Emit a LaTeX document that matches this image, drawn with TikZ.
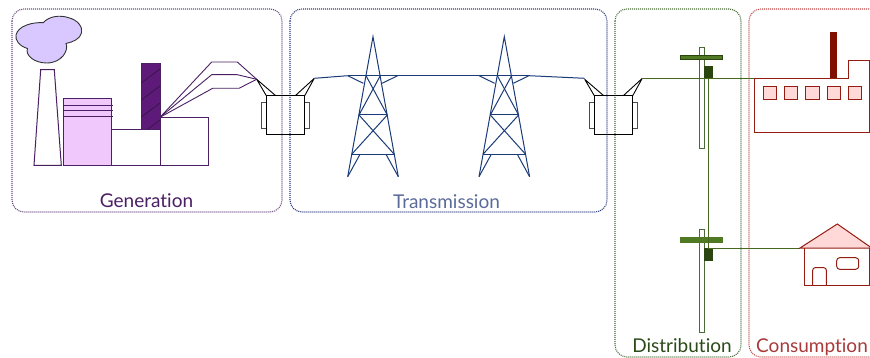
\documentclass[tikz,border=0pt]{standalone}
\usepackage{fontspec}
\setmainfont{Lato}[Ligatures=NoCommon]
\definecolor{genc}{HTML}{4A1F63}
\definecolor{genbox}{HTML}{6B4A80}
\definecolor{trc}{HTML}{5A6A9A}
\definecolor{trbox}{HTML}{2A3A80}
\definecolor{trline}{HTML}{1A3A78}
\definecolor{disc}{HTML}{2A4A18}
\definecolor{disbox}{HTML}{4A6A38}
\definecolor{disline}{HTML}{47691F}
\definecolor{armfill}{HTML}{4F7A23}
\definecolor{boxfill}{HTML}{2A4510}
\definecolor{conc}{HTML}{A83A3A}
\definecolor{conbox}{HTML}{C04848}
\definecolor{conline}{HTML}{951C10}
\definecolor{chimfill}{HTML}{800F00}
\definecolor{pinkfill}{HTML}{F0C8FC}
\definecolor{cloudfill}{HTML}{D8C8FF}
\definecolor{stackfill}{HTML}{5E1A78}
\definecolor{rosefill}{HTML}{FFD8D8}
\tikzset{
  zone/.style={draw=#1,dash pattern=on 1pt off 1pt,line width=1.1pt,rounded corners=12pt},
  zonelabel/.style={text=#1,font=\fontsize{19}{20}\selectfont,anchor=base,inner sep=0pt},
  plant/.style={draw=genc,line width=1pt},
  wirep/.style={draw=genc,line width=.9pt},
  wiret/.style={draw=trline,line width=1pt},
  wired/.style={draw=disline,line width=1pt},
  wirek/.style={draw=black,line width=.9pt},
  cons/.style={draw=conline,line width=1pt},
}
\begin{document}
\begin{tikzpicture}[x=1pt,y=-1pt]
\useasboundingbox (0,0) rectangle (870,358);
% zones
\draw[zone=genbox] (12,9) rectangle (282,212);
\draw[zone=trbox] (290,9) rectangle (607,212);
\draw[zone=disbox] (615,9) rectangle (741,357);
\draw[zone=conbox] (885,9) -- (749,9) -- (749,357) -- (885,357);
% labels
\node[zonelabel=genc] (lgen) at (146.5,207.5) {Generation};
\node[zonelabel=trc] (ltr) at (446.5,208.5) {Transmission};
\node[zonelabel=disc] (ldis) at (682,352.5) {Distribution};
\node[zonelabel=conc] (lcon) at (812,352.5) {Consumption};
% cloud
\draw[draw=black!80,fill=cloudfill,line width=.9pt] (43.3,22.7)
  .. controls (49,16) and (60,15) .. (68,17.5)
  .. controls (78,20) and (83,27) .. (81.5,33)
  .. controls (80,39) and (73,42) .. (66,43.5)
  .. controls (69,50) and (62,63) .. (46.7,63)
  .. controls (34,63) and (25,55) .. (27.5,48.5)
  .. controls (19,46) and (15,40) .. (16,35)
  .. controls (18,26) and (32,22) .. (43.3,22.7) -- cycle;
% plant
\draw[plant,fill=white] (40.7,69.7) -- (54.3,69.7) -- (61.3,165.3) -- (34,165.3) -- cycle;
\draw[plant,fill=pinkfill] (63.3,98.7) rectangle (111.7,165.3);
\foreach \y in {105.3,111,116.7} \draw[plant] (62.5,\y) -- (112.7,\y);
\draw[plant,fill=stackfill] (141.3,63.3) rectangle (160,130);
\begin{scope}
\clip (141.3,63.3) rectangle (160,130);
\foreach \y in {83,100,117,134,151} \draw[draw=genc!70!black,line width=.7pt] (141.3,\y) -- (160,\y-14);
\end{scope}
\draw[plant] (111.7,130) rectangle (160,165.3);
\draw[plant] (160,117.3) rectangle (208.3,165.3);
\coordinate (src) at (160,117.3);
\coordinate (t1l) at (256.7,79.3);
\coordinate (t1r) at (314.3,78.3);
\draw[wirep] (src) -- (211.7,62) -- (237.3,62) -- (t1l);
\draw[wirep] (src) -- (211.7,74.7) -- (237.3,74.7) -- (t1l);
\draw[wirep] (src) -- (212.7,88.3) -- (239,88.3) -- (t1l);
% transformers
\foreach \dx in {0,328}{
\begin{scope}[xshift=\dx pt]
\draw[draw=black!70,line width=1pt] (261.7,102.7) rectangle (266.3,128.3);
\draw[draw=black!70,line width=1pt] (304.7,102.7) rectangle (309.3,128.3);
\draw[draw=black,line width=1pt] (266.3,95.7) rectangle (304.7,134.3);
\draw[wirek] (256.7,79.3) -- (266.3,95.7) (256.7,79.3) -- (275.7,95.7);
\draw[wirek] (314.3,78.3) -- (304.7,95.7) (314.3,78.3) -- (295.3,95.7);
\end{scope}}
% towers
\foreach \dx in {0,131.3}{
\begin{scope}[xshift=\dx pt]
\draw[wiret] (347.7,176.7) -- (373,36.7) -- (398.3,176.7);
\draw[wiret] (347.7,75.7) -- (397.7,75.7);
\draw[wiret] (347.7,75.7) -- (363.3,83.3);
\draw[wiret] (397.7,75.7) -- (382,83.3);
\draw[wiret] (359,115) -- (387.3,115);
\draw[wiret] (351.7,154.3) -- (394.3,154.3);
\draw[wiret] (366,75.7) -- (387.3,115);
\draw[wiret] (380.3,75.7) -- (359,115);
\draw[wiret] (359,115) -- (394.3,154.3);
\draw[wiret] (387.3,115) -- (351.7,154.3);
\draw[wiret] (360,154.3) -- (347.7,176.7);
\draw[wiret] (386,154.3) -- (398.3,176.7);
\end{scope}}
\coordinate (tw1l) at (347.7,75.7);
\coordinate (tw1r) at (397.7,76);
\coordinate (tw2l) at (479,76);
\coordinate (tw2r) at (529,75.7);
\coordinate (t2l) at (584.7,78.3);
\coordinate (t2r) at (642.7,78.3);
\draw[wiret] (t1r) -- (tw1l);
\draw[wiret] (tw1r) -- (tw2l);
\draw[wiret] (tw2r) -- (t2l);
% poles
\coordinate (p1) at (708.3,78.3);
\coordinate (p2) at (708.3,248);
\coordinate (fac) at (754.3,78.3);
\coordinate (hou) at (800,248);
\draw[draw=disbox,fill=white,line width=1pt] (699,47.3) rectangle (704.7,149);
\draw[draw=disbox,fill=white,line width=1pt] (699,230) rectangle (704.7,332);
\draw[draw=boxfill,fill=armfill,line width=1pt] (680.3,55.3) rectangle (722.7,59.7);
\draw[draw=armfill,fill=armfill,line width=1pt] (680.3,238) rectangle (722.7,242.7);
\fill[boxfill] (704.3,66) rectangle (713.3,78.3);
\fill[boxfill] (704.3,248) rectangle (713.3,260.7);
\draw[wired] (p1) -- (p2);
\draw[wired] (t2r) -- (fac);
\draw[wired] (p2) -- (hou);
% factory
\draw[cons] (fac) -- (848,78.3) -- (848,61) -- (869.5,61) -- (869.5,132.7) -- (754.3,132.7) -- cycle;
\fill[chimfill] (830.3,32) rectangle (837,78.3);
\foreach \x in {763,784.3,805.7,827,848.3}
  \draw[cons,fill=rosefill] (\x,86.3) rectangle (\x+13.3,99.7);
% house
\draw[cons,fill=rosefill] (hou) -- (837.3,224) -- (871.7,248) -- cycle;
\draw[cons] (804,248) -- (804,285) -- (869.5,285) -- (869.5,248);
\draw[cons,rounded corners=2.5pt] (812.7,285) -- (812.7,267.7) -- (826.3,267.7) -- (826.3,285);
\draw[cons,rounded corners=3pt] (836.7,257.7) rectangle (858.7,269.3);
\end{tikzpicture}
\end{document}
